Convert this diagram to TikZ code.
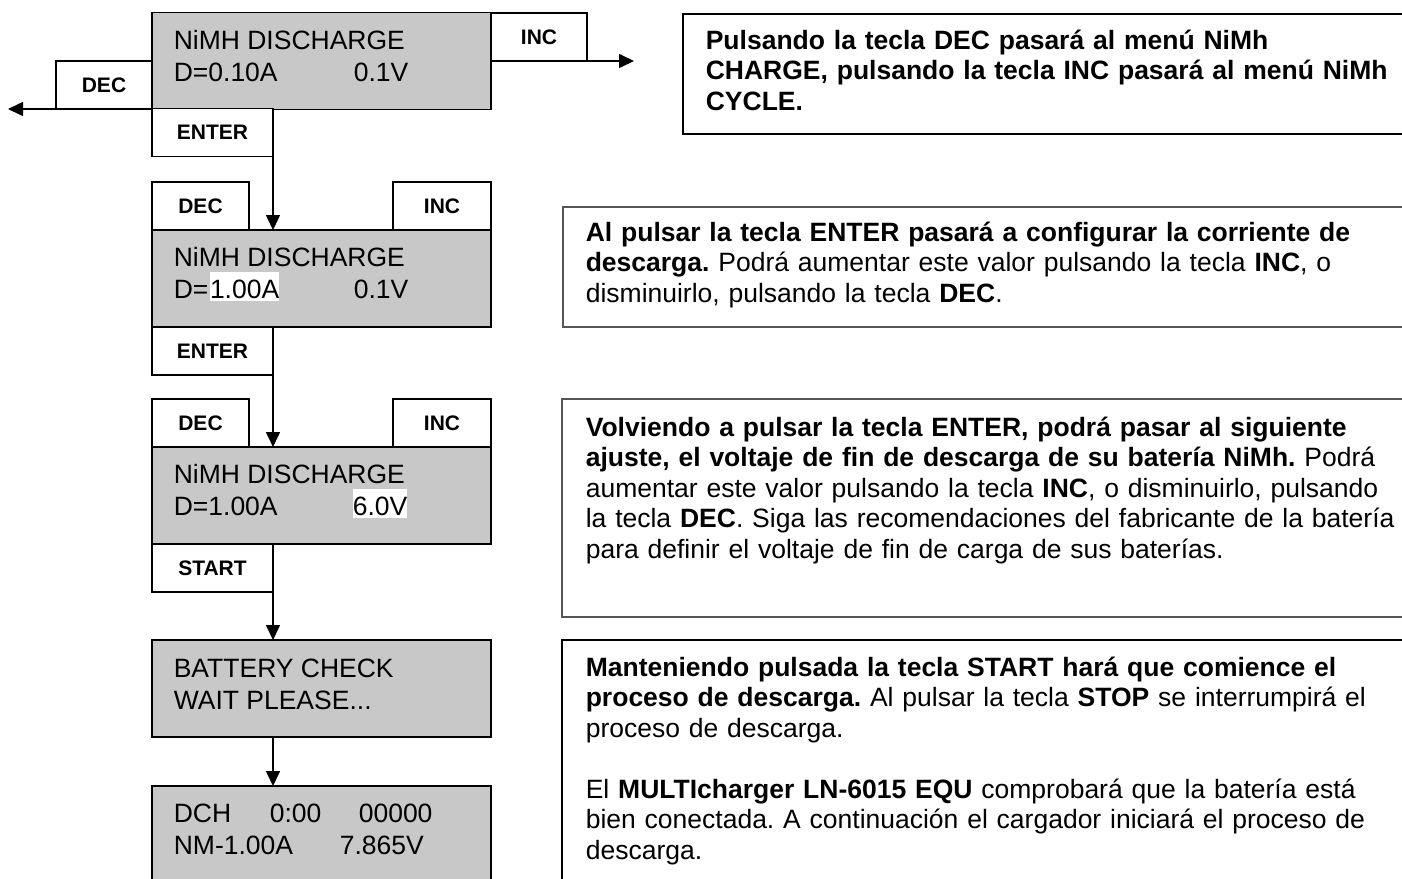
\documentclass[tikz,border=0pt]{standalone}
\usepackage{fontspec}
\setmainfont{Liberation Sans}
\usetikzlibrary{arrows.meta}
\definecolor{lcdgray}{RGB}{200,200,200}
\definecolor{framegray}{RGB}{85,85,85}
\frenchspacing

\begin{document}
\begin{tikzpicture}[x=1pt,y=-1pt,line width=1.6pt,
  lcd/.style={rectangle,draw,fill=lcdgray,minimum width=339pt,minimum height=97pt,inner sep=0pt,outer sep=0pt},
  key/.style={rectangle,draw,fill=white,minimum height=48pt,inner sep=0pt,outer sep=0pt,font=\bfseries\fontsize{21}{23}\selectfont},
  lcdtext/.style={anchor=base west,inner sep=0pt,font=\fontsize{26.5}{30.5}\selectfont},
  hilite/.style={fill=white,text height=26.5pt,text depth=3pt},
  note/.style={anchor=base west,inner sep=0pt,text width=850pt,align=left,font=\fontsize{26.5}{30.5}\selectfont},
  arr/.style={-{Triangle[length=15pt,width=14pt]}}]
\useasboundingbox (0,0) rectangle (1402,878);

\begin{scope}
\clip (0,0) rectangle (1402,878);
\draw (683,14) rectangle (1420,134);
\draw [framegray] (563,207) rectangle (1420,327);
\draw [framegray] (562,399) rectangle (1420,617);
\draw (562,640) rectangle (1420,900);
\node [lcd] (lcd5) at (321.5,834.5) {};
\end{scope}

\node [lcd] (lcd1) at (321.5,61) {};
\node [lcd] (lcd2) at (321.5,278.5) {};
\node [lcd] (lcd3) at (321.5,495.5) {};
\node [lcd] (lcd4) at (321.5,688.5) {};

\node [key,minimum width=96pt] (dec1) at (104,85) {DEC};
\node [key,minimum width=96pt] (inc1) at (539,37) {INC};
\node [key,minimum width=121pt] (enter1) at (212.5,132.5) {ENTER};
\node [key,minimum width=97pt] (dec2) at (200.5,206) {DEC};
\node [key,minimum width=98pt] (inc2) at (442,206) {INC};
\node [key,minimum width=121pt] (enter2) at (212.5,351) {ENTER};
\node [key,minimum width=97pt] (dec3) at (200.5,423) {DEC};
\node [key,minimum width=98pt] (inc3) at (442,423) {INC};
\node [key,minimum width=121pt] (start) at (212.5,568) {START};

\begin{scope}[every node/.style={lcdtext}]
\node (lcd1a) at (173,49) {NiMH DISCHARGE};
\node (lcd1b) at (173,81) {D=0.10A};
\node (lcd1c) at (353,81) {0.1V};
\node (lcd2a) at (173,266) {NiMH DISCHARGE};
\node (lcd2b) at (173,298) {D=};
\node [hilite] (lcd2h) at (lcd2b.base east) {1.00A};
\node (lcd2c) at (353,298) {0.1V};
\node (lcd3a) at (173,483) {NiMH DISCHARGE};
\node (lcd3b) at (173,515) {D=1.00A};
\node [hilite] (lcd3h) at (352,515) {6.0V};
\node (lcd4a) at (173,677) {BATTERY CHECK};
\node (lcd4b) at (173,709) {WAIT PLEASE...};
\node (lcd5a) at (173,822) {DCH};
\node (lcd5b) at (269,822) {0:00};
\node (lcd5c) at (358,822) {00000};
\node (lcd5d) at (173,854) {NM-1.00A};
\node (lcd5e) at (339,854) {7.865V};
\end{scope}

\node [note,text width=700pt] (noteA) at (705,49) {\textbf{Pulsando la tecla DEC pasará al menú NiMh}\\
\textbf{CHARGE, pulsando la tecla INC pasará al menú NiMh}\\
\textbf{CYCLE.}};
\node [note] (noteB) at (585,241) {\textbf{Al pulsar la tecla ENTER pasará a configurar la corriente de}\\
\textbf{descarga.} Podrá aumentar este valor pulsando la tecla \textbf{INC}, o\\
disminuirlo, pulsando la tecla \textbf{DEC}.};
\node [note] (noteC) at (585,436) {\textbf{Volviendo a pulsar la tecla ENTER, podrá pasar al siguiente}\\
\textbf{ajuste, el voltaje de fin de descarga de su batería NiMh.} Podrá\\
aumentar este valor pulsando la tecla \textbf{INC}, o disminuirlo, pulsando\\
la tecla \textbf{DEC}. Siga las recomendaciones del fabricante de la batería\\
para definir el voltaje de fin de carga de sus baterías.};
\node [note] (noteD) at (585,676) {\textbf{Manteniendo pulsada la tecla START hará que comience el}\\
\textbf{proceso de descarga.} Al pulsar la tecla \textbf{STOP} se interrumpirá el\\
proceso de descarga.\\[30.5pt]
El \textbf{MULTIcharger LN-6015 EQU} comprobará que la batería está\\
bien conectada. A continuación el cargador iniciará el proceso de\\
descarga.};

\coordinate (incout) at (634,61);
\coordinate (decout) at (8,109);
\draw [arr] (inc1.south west) -- (incout);
\draw [arr] (dec1.south east) -- (decout);
\draw [arr] (enter1.north east) -- (enter1.north east |- lcd2.north);
\draw [arr] (enter2.north east) -- (enter2.north east |- lcd3.north);
\draw [arr] (start.north east) -- (start.north east |- lcd4.north);
\draw [arr] (lcd4.south -| start.east) -- (lcd5.north -| start.east);
\end{tikzpicture}
\end{document}
